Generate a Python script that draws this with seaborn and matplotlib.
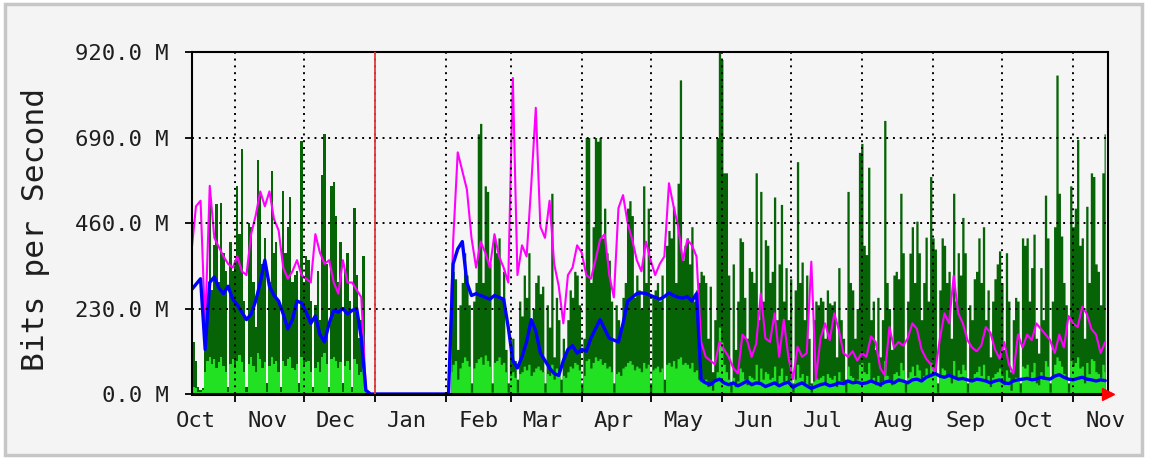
import numpy as np
import pandas as pd
import matplotlib
matplotlib.use('Agg')
import matplotlib.pyplot as plt
import matplotlib.dates as mdates
from matplotlib.ticker import NullFormatter
from matplotlib.patches import Rectangle
import seaborn as sns

# MRTG yearly graph, values in Mbit/s
start = pd.Timestamp('2006-10-13')

# daily max input (dark green), Oct 13 - Dec 28
max_in_1 = [160, 140, 90, 20, 10, 15, 120, 260, 550, 280,
            400, 510, 300, 515, 380, 330, 20, 410, 330, 360,
            560, 430, 660, 250, 20, 460, 450, 300, 180, 630,
            540, 350, 420, 30, 300, 600, 380, 410, 250, 20,
            545, 380, 450, 530, 300, 320, 330, 30, 680, 300,
            370, 360, 250, 20, 240, 330, 200, 590, 700, 350,
            20, 560, 570, 480, 300, 410, 30, 330, 380, 250,
            20, 500, 320, 150, 200, 370, 40]
# daily average input (light green), Oct 13 - Dec 28
avg_in_1 = [25, 20, 15, 5, 5, 10, 60, 90, 100, 80,
            95, 70, 85, 100, 75, 60, 5, 80, 95, 70,
            90, 105, 85, 60, 5, 80, 100, 75, 60, 110,
            95, 70, 85, 5, 75, 100, 80, 90, 60, 5,
            90, 75, 95, 100, 70, 65, 80, 5, 100, 75,
            85, 90, 60, 5, 70, 85, 60, 100, 110, 80,
            5, 95, 100, 90, 70, 85, 5, 75, 90, 65,
            5, 95, 80, 50, 60, 70, 10]

# daily max input, Feb 3 - Nov 15
max_in_2 = [320, 330, 310, 120, 240, 300, 380, 320, 240, 30,
            250, 300, 700, 728, 300, 560, 545, 350, 30, 420,
            380, 420, 260, 330, 120, 30, 130, 150, 90, 40,
            250, 210, 320, 260, 380, 200, 230, 300, 320, 270,
            290, 30, 240, 180, 540, 100, 260, 200, 40, 150,
            110, 200, 280, 260, 330, 320, 240, 30, 150, 690,
            690, 300, 450, 690, 680, 690, 420, 500, 380, 360,
            250, 30, 240, 200, 180, 260, 300, 500, 520, 480,
            260, 320, 280, 230, 560, 300, 500, 30, 260, 280,
            300, 250, 320, 40, 400, 440, 420, 505, 300, 567,
            845, 360, 400, 420, 350, 450, 250, 280, 300, 330,
            320, 300, 150, 290, 60, 200, 690, 920, 900, 595,
            595, 320, 30, 350, 120, 250, 420, 410, 260, 150,
            340, 330, 300, 595, 200, 545, 250, 415, 400, 300,
            330, 530, 200, 350, 510, 250, 340, 200, 310, 30,
            280, 625, 300, 355, 200, 320, 150, 30, 200, 250,
            240, 260, 250, 150, 280, 245, 240, 250, 100, 340,
            200, 150, 40, 545, 300, 280, 150, 230, 650, 674,
            400, 375, 610, 200, 250, 120, 260, 100, 200, 736,
            300, 230, 120, 320, 330, 310, 540, 380, 30, 250,
            379, 450, 300, 465, 380, 200, 300, 422, 250, 585,
            420, 390, 30, 280, 420, 400, 300, 330, 150, 540,
            250, 380, 320, 475, 380, 30, 240, 200, 310, 330,
            420, 300, 450, 200, 280, 100, 250, 310, 350, 385,
            300, 120, 380, 250, 60, 200, 260, 250, 30, 420,
            400, 420, 250, 340, 430, 150, 110, 340, 200, 535,
            420, 30, 250, 450, 858, 540, 425, 300, 240, 30,
            560, 450, 500, 685, 400, 420, 150, 505, 300, 595,
            585, 350, 330, 240, 595, 700]
# daily average input, Feb 3 - Nov 15
avg_in_2 = [60, 80, 90, 40, 70, 85, 100, 90, 75, 5,
            70, 85, 95, 100, 80, 105, 90, 75, 5, 85,
            90, 100, 80, 85, 60, 5, 50, 60, 45, 5,
            55, 60, 75, 65, 80, 50, 60, 70, 75, 65,
            60, 5, 55, 50, 80, 40, 70, 60, 5, 50,
            45, 60, 75, 70, 85, 80, 65, 5, 50, 90,
            95, 70, 85, 100, 90, 95, 80, 85, 70, 75,
            60, 5, 55, 60, 50, 70, 75, 85, 90, 80,
            65, 75, 70, 60, 85, 70, 80, 5, 65, 70,
            75, 60, 70, 5, 80, 85, 75, 90, 70, 95,
            100, 80, 85, 80, 70, 85, 60, 65, 40, 35,
            30, 40, 20, 30, 10, 35, 60, 180, 140, 80,
            60, 40, 5, 45, 20, 35, 70, 60, 40, 25,
            50, 45, 40, 80, 30, 70, 40, 60, 55, 40,
            45, 75, 30, 50, 70, 35, 50, 30, 45, 5,
            40, 80, 45, 55, 30, 50, 25, 5, 35, 45,
            40, 45, 50, 30, 55, 45, 40, 50, 20, 60,
            35, 25, 5, 75, 50, 45, 30, 40, 80, 85,
            60, 55, 85, 35, 45, 25, 50, 20, 35, 90,
            50, 40, 25, 55, 60, 50, 85, 65, 5, 45,
            60, 75, 50, 80, 65, 35, 50, 70, 45, 85,
            70, 60, 5, 45, 70, 65, 50, 55, 30, 90,
            45, 65, 55, 80, 65, 5, 40, 35, 55, 60,
            75, 50, 80, 35, 50, 20, 45, 55, 60, 70,
            50, 25, 65, 45, 10, 35, 45, 40, 5, 75,
            70, 80, 45, 60, 85, 30, 25, 60, 40, 90,
            75, 5, 45, 80, 100, 90, 75, 55, 45, 5,
            90, 75, 85, 100, 70, 75, 30, 85, 55, 95,
            90, 60, 55, 45, 80, 60]

# every second day: average output (blue) and max output (magenta)
avg_out_1 = [280, 295, 310, 120, 300, 315, 285, 270, 290, 255,
             240, 220, 200, 215, 250, 300, 360, 290, 265, 250,
             215, 175, 200, 250, 245, 220, 190, 210, 160, 140,
             190, 225, 220, 230, 215, 225, 230, 150, 10]
max_out_1 = [380, 505, 520, 180, 560, 420, 395, 370, 350, 340,
             370, 330, 320, 430, 480, 545, 505, 545, 470, 440,
             340, 310, 330, 360, 320, 310, 300, 430, 380, 350,
             360, 300, 270, 360, 300, 300, 280, 260, 10]
# Dec 30 - Feb 1: link idle
out_gap = [0, 0, 0, 0, 0, 0, 0, 0, 0, 0, 0, 0, 0, 0, 0, 0, 0, 0]
avg_out_2 = [350, 390, 410, 300, 265, 270, 265, 260, 255, 265,
             260, 255, 180, 90, 70, 100, 140, 200, 170, 110,
             90, 70, 55, 50, 90, 120, 130, 110, 120, 115,
             150, 175, 200, 175, 150, 145, 140, 190, 250, 260,
             270, 272, 270, 265, 260, 255, 262, 272, 265, 260,
             258, 262, 250, 270, 38,
             30, 25, 35, 40, 30, 25, 30, 22, 28, 35,
             25, 30, 28, 20, 25, 30, 22, 28, 32, 18,
             25, 30, 22, 15, 20, 25, 28, 22, 25, 30,
             28, 35, 30, 32, 28, 30, 35, 30, 25, 32,
             35, 30, 38, 35, 30, 38, 40, 35, 45, 50,
             55, 48, 45, 50, 45, 40, 42, 38, 35, 40,
             38, 35, 30, 35, 38, 30, 28, 35, 38, 40,
             42, 38, 40, 45, 42, 40, 48, 52, 45, 40,
             38, 42, 45, 40, 38, 35, 38, 36]
max_out_2 = [410, 650, 600, 550, 420, 340, 410, 380, 340, 430,
             370, 340, 300, 850, 320, 400, 370, 560, 770, 450,
             420, 520, 350, 290, 190, 320, 340, 400, 380, 320,
             310, 360, 415, 430, 320, 260, 500, 535, 460, 415,
             360, 330, 410, 360, 320, 350, 370, 567, 505, 450,
             360, 415, 400, 370, 140,
             100, 90, 80, 140, 120, 100, 70, 55, 160, 145,
             100, 135, 270, 150, 140, 217, 100, 200, 100, 40,
             127, 100, 110, 356, 40, 150, 190, 145, 217, 172,
             110, 100, 115, 90, 110, 100, 155, 140, 70, 50,
             180, 125, 140, 130, 150, 190, 175, 120, 95, 80,
             60, 150, 217, 190, 318, 217, 190, 145, 125, 115,
             130, 180, 165, 120, 95, 140, 80, 55, 160, 125,
             160, 145, 190, 175, 160, 145, 110, 160, 125, 210,
             190, 180, 235, 215, 175, 160, 110, 140]

avg_out = avg_out_1 + out_gap + avg_out_2
max_out = max_out_1 + out_gap + max_out_2
assert len(max_in_1) == len(avg_in_1) == 77
assert len(max_in_2) == len(avg_in_2) == 286
assert len(avg_out) == len(max_out) == 200

y_ticks = [0, 230, 460, 690, 920]
y_labels = ['0.0 M', '230.0 M', '460.0 M', '690.0 M', '920.0 M']
month_labels = ['Oct', 'Nov', 'Dec', 'Jan', 'Feb', 'Mar', 'Apr', 'May',
                'Jun', 'Jul', 'Aug', 'Sep', 'Oct', 'Nov']


def days(first, n, step=1):
    return start + pd.to_timedelta(first + step * np.arange(n), unit='D')


d_in_1 = days(0, len(max_in_1))
d_in_2 = days(113, len(max_in_2))
d_out = days(0, len(avg_out), 2)

sns.set_theme(style='white')
plt.rcParams['font.family'] = ['DejaVu Sans Mono', 'DejaVu Sans']

fig = plt.figure(figsize=(11.49, 4.59), dpi=100, facecolor='white')
fig.patches.append(Rectangle((0.004, 0.008), 0.99, 0.984, transform=fig.transFigure,
                             facecolor='#f4f4f4', edgecolor='#c6c6c6', lw=2.5, zorder=-10))
ax = fig.add_axes([0.1671, 0.1416, 0.7972, 0.7451])
ax.set_facecolor('#f5f5f5')

dark = '#066406'
light = '#22e022'
for d, mx, av in [(d_in_1, max_in_1, avg_in_1), (d_in_2, max_in_2, avg_in_2)]:
    ax.fill_between(d, mx, step='mid', color=dark, lw=0, zorder=1)
    ax.fill_between(d, av, step='mid', color=light, lw=0, zorder=1.1)

sns.lineplot(x=d_out, y=max_out, color='#ff00ff', linewidth=1.5, ax=ax, zorder=2)
sns.lineplot(x=d_out, y=avg_out, color='#0000ff', linewidth=2.4, ax=ax, zorder=2.1)

ax.axvline(pd.Timestamp('2007-01-01'), color='#e03c3c', lw=1.3, zorder=3)

ax.set_yticks(y_ticks, y_labels)

ax.xaxis.set_major_locator(mdates.MonthLocator())
ax.xaxis.set_major_formatter(NullFormatter())
label_days = pd.date_range('2006-10-01', periods=len(month_labels), freq='MS') + pd.Timedelta(days=14)
ax.set_xticks(label_days, month_labels, minor=True)

ax.set_xlim(start + pd.Timedelta(days=0.27), start + pd.Timedelta(days=399.2))
ax.set_ylim(0, 920)

ax.set_axisbelow(False)
ax.grid(True, which='major', axis='both', color='black',
        linestyle=(0, (1, 2.5)), linewidth=1.4)
ax.tick_params(axis='x', which='major', direction='out', length=6, width=1.3, color='black', bottom=True)
ax.tick_params(axis='x', which='minor', length=0, pad=12, labelsize=16, labelcolor='#1e1e1e', bottom=True)
ax.tick_params(axis='y', direction='out', length=5, width=1.3, color='black', pad=12,
               labelsize=16, labelcolor='#1e1e1e', left=True)

for s in ax.spines.values():
    s.set_color('black')
    s.set_linewidth(1.5)
ax.spines['bottom'].set_linewidth(2.2)

ax.set_xlabel('')
ax.set_ylabel('Bits per Second', fontsize=22.5, color='#1e1e1e')
ax.yaxis.set_label_coords(-0.155, 0.48)

ax.plot([1.0], [0.0], marker='>', color='red', markersize=9, transform=ax.transAxes,
        clip_on=False, zorder=6, linestyle='none')

fig.savefig('out.png', dpi=100, facecolor=fig.get_facecolor())
